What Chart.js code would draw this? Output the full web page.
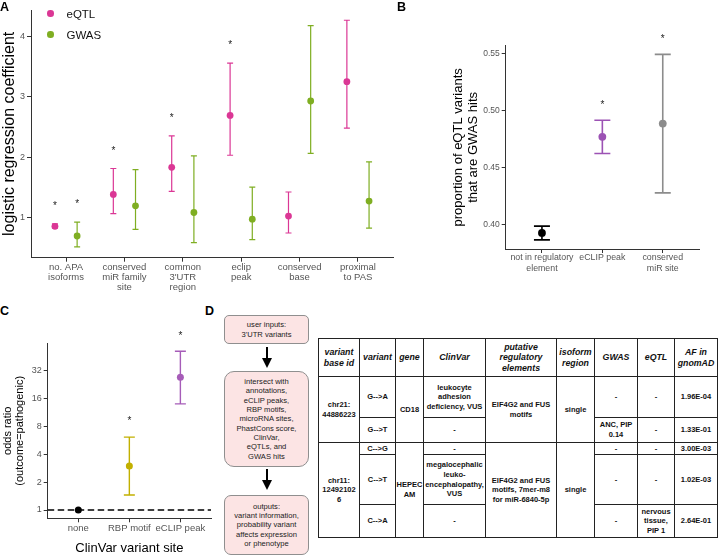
<!DOCTYPE html>
<html><head><meta charset="utf-8">
<script src="https://cdn.jsdelivr.net/npm/chart.js@4.4.0/dist/chart.umd.min.js"></script>
<style>
html,body{margin:0;padding:0;background:#fff;}
body{width:720px;height:560px;position:relative;overflow:hidden;font-family:'Liberation Sans',Arial,sans-serif;}
canvas{position:absolute;}
#cA{left:0;top:0;}
#cB{left:400px;top:0;}
#cC{left:0;top:320px;}
.lbl{position:absolute;font-weight:bold;font-size:12.5px;line-height:12px;color:#000;}
.legend{position:absolute;left:47px;top:3px;font-size:11.5px;color:#111;}
.legend div{height:21px;display:flex;align-items:center;}
.dot{width:6.5px;height:6.5px;border-radius:50%;display:inline-block;margin-right:13px;}
.box{position:absolute;left:224px;width:85px;background:#fce4e4;border:1px solid #8f8f8f;box-sizing:border-box;display:flex;align-items:center;justify-content:center;text-align:center;font-size:7.6px;line-height:9.3px;color:#222;}
.shaft{position:absolute;left:266px;width:2px;background:#000;}
.head{position:absolute;left:262px;width:0;height:0;border-left:5px solid transparent;border-right:5px solid transparent;border-top:10px solid #000;}
#tbl{position:absolute;left:318px;top:338px;border-collapse:collapse;table-layout:fixed;width:399px;font-family:'Liberation Sans',Arial,sans-serif;font-weight:bold;font-size:7.5px;line-height:9.6px;color:#111;}
#tbl td,#tbl th{border:0.8px solid #222;padding:0;text-align:center;vertical-align:middle;white-space:nowrap;overflow:hidden;}
#tbl th{font-style:italic;font-size:8.8px;line-height:10.5px;border-bottom:1.6px solid #222;}
</style>
</head><body>
<canvas id="cA" width="400" height="300"></canvas>
<canvas id="cB" width="320" height="300"></canvas>
<canvas id="cC" width="215" height="240"></canvas>

<div class="lbl" style="left:0;top:1px;">A</div>
<div class="lbl" style="left:397px;top:1px;">B</div>
<div class="lbl" style="left:0;top:305px;">C</div>
<div class="lbl" style="left:205px;top:305px;">D</div>

<div class="legend">
  <div><span class="dot" style="background:#DB3795"></span>eQTL</div>
  <div><span class="dot" style="background:#7FAE22"></span>GWAS</div>
</div>

<div class="box" style="top:315px;height:29px;border-radius:5px;">user inputs:<br>3'UTR variants</div>
<div class="shaft" style="top:347px;height:12px;"></div>
<div class="head" style="top:358px;"></div>
<div class="box" style="top:371px;height:96px;border-radius:10px;">intersect with<br>annotations,<br>eCLIP peaks,<br>RBP motifs,<br>microRNA sites,<br>PhastCons score,<br>ClinVar,<br>eQTLs, and<br>GWAS hits</div>
<div class="shaft" style="top:469px;height:12px;"></div>
<div class="head" style="top:480px;"></div>
<div class="box" style="top:495px;height:60px;border-radius:7px;">outputs:<br>variant information,<br>probability variant<br>affects expression<br>or phenotype</div>

<table id="tbl">
<colgroup><col style="width:41px"><col style="width:36px"><col style="width:28px"><col style="width:62px"><col style="width:71px"><col style="width:38px"><col style="width:43px"><col style="width:37px"><col style="width:43px"></colgroup>
<tr style="height:38px"><th>variant<br>base id</th><th>variant</th><th>gene</th><th>ClinVar</th><th>putative<br>regulatory<br>elements</th><th>isoform<br>region</th><th>GWAS</th><th>eQTL</th><th>AF in<br>gnomAD</th></tr>
<tr style="height:41px"><td rowspan="2">chr21:<br>44886223</td><td>G--&gt;A</td><td rowspan="2">CD18</td><td>leukocyte<br>adhesion<br>deficiency, VUS</td><td rowspan="2">EIF4G2 and FUS<br>motifs</td><td rowspan="2">single</td><td>-</td><td>-</td><td>1.96E-04</td></tr>
<tr style="height:25px"><td>G--&gt;T</td><td>-</td><td>ANC, PIP<br>0.14</td><td>-</td><td>1.33E-01</td></tr>
<tr style="height:12px"><td rowspan="3">chr11:<br>12492102<br>6</td><td>C--&gt;G</td><td rowspan="3">HEPEC<br>AM</td><td>-</td><td rowspan="3">EIF4G2 and FUS<br>motifs, 7mer-m8<br>for miR-6840-5p</td><td rowspan="3">single</td><td>-</td><td>-</td><td>3.00E-03</td></tr>
<tr style="height:50px"><td>C--&gt;T</td><td>megalocephalic<br>leuko-<br>encephalopathy,<br>VUS</td><td>-</td><td>-</td><td>1.02E-03</td></tr>
<tr style="height:33px"><td>C--&gt;A</td><td>-</td><td>-</td><td>nervous<br>tissue,<br>PIP 1</td><td>2.64E-01</td></tr>
</table>

<script>
// ---------- Panel A data ----------
const aCategories = [["no. APA","isoforms"],["conserved","miR family","site"],["common","3'UTR","region"],["eclip","peak"],["conserved","base"],["proximal","to PAS"]];
const aEqtlCoef = [0.85, 1.38, 1.83, 2.69, 1.02, 3.25];
const aEqtlLow  = [0.82, 1.06, 1.43, 2.03, 0.74, 2.48];
const aEqtlHigh = [0.89, 1.81, 2.35, 3.56, 1.42, 4.27];
const aEqtlSig  = [true, true, true, true, false, false];
const aGwasCoef = [0.69, 1.19, 1.08, 0.97, 2.93, 1.27];
const aGwasLow  = [0.51, 0.80, 0.58, 0.63, 2.06, 0.82];
const aGwasHigh = [0.92, 1.79, 2.02, 1.50, 4.18, 1.92];
const aGwasSig  = [true, false, false, false, false, false];
const aYTicks = [1, 2, 3, 4];

// ---------- Panel B data ----------
const bCategories = [["not in regulatory","element"],"eCLIP peak",["conserved","miR site"]];
const bProportion = [0.393, 0.477, 0.4886];
const bLow  = [0.387, 0.4624, 0.428];
const bHigh = [0.399, 0.4915, 0.549];
const bSig  = [false, true, true];
const bYTicks = [0.40, 0.45, 0.50, 0.55];

// ---------- Panel C data ----------
const cCategories = ["none","RBP motif","eCLIP peak"];
const cOddsRatio = [1, 2.97, 26.9];
const cLow  = [null, 1.45, 13.9];
const cHigh = [null, 6.09, 51.2];
const cSig  = [false, true, true];
const cYTicks = [1, 2, 4, 8, 16, 32];

const PINK = '#DB3795', GREEN = '#7FAE22';
const bColors = ['#000000', '#9C52B4', '#8C8C8C'];
const cColors = ['#000000', '#C2B000', '#A65CB8'];
const TICK = '#555555', AXIS = '#333333';

Chart.defaults.font.family = "'Liberation Sans', Arial, sans-serif";
Chart.defaults.color = TICK;

const errPlugin = {
  id: 'errbars',
  beforeDatasetsDraw(chart, args, opts) {
    const ctx = chart.ctx, x = chart.scales.x, y = chart.scales.y;
    if (opts.refValue != null) {
      const py = y.getPixelForValue(opts.refValue);
      ctx.save();
      ctx.strokeStyle = '#000'; ctx.lineWidth = 1.3; ctx.setLineDash([6.5, 3.5]);
      ctx.beginPath(); ctx.moveTo(chart.chartArea.left, py); ctx.lineTo(chart.chartArea.right, py); ctx.stroke();
      ctx.restore();
    }
    chart.data.datasets.forEach(ds => {
      if (!ds.low) return;
      ds.data.forEach((p, i) => {
        const lo = ds.low[i], hi = ds.high[i];
        if (lo == null || hi == null) return;
        const px = x.getPixelForValue(p.x), pl = y.getPixelForValue(lo), ph = y.getPixelForValue(hi);
        const c = ds.capHalf;
        ctx.save();
        ctx.strokeStyle = Array.isArray(ds.backgroundColor) ? ds.backgroundColor[i] : ds.backgroundColor;
        ctx.lineWidth = ds.errWidth;
        ctx.beginPath();
        ctx.moveTo(px, pl); ctx.lineTo(px, ph);
        ctx.moveTo(px - c, pl); ctx.lineTo(px + c, pl);
        ctx.moveTo(px - c, ph); ctx.lineTo(px + c, ph);
        ctx.stroke();
        ctx.restore();
      });
    });
  },
  afterDatasetsDraw(chart, args, opts) {
    const ctx = chart.ctx, x = chart.scales.x, y = chart.scales.y;
    chart.data.datasets.forEach(ds => {
      if (!ds.sig) return;
      ds.data.forEach((p, i) => {
        if (!ds.sig[i]) return;
        const v = opts.logStar ? ds.high[i] * opts.starOffset : ds.high[i] + opts.starOffset;
        const px = x.getPixelForValue(p.x), py = y.getPixelForValue(v);
        ctx.save();
        ctx.fillStyle = '#222'; ctx.font = "10px 'Liberation Sans', Arial, sans-serif";
        ctx.textAlign = 'center'; ctx.textBaseline = 'alphabetic';
        ctx.fillText('*', px, py + 5.8);
        ctx.restore();
      });
    });
  }
};

function axisCommon() {
  return {
    grid: { drawOnChartArea: false, tickLength: 4, tickColor: AXIS, tickWidth: 1 },
    border: { color: AXIS, width: 1 }
  };
}

// ---------- Panel A ----------
const dodge = 0.19;
new Chart(document.getElementById('cA'), {
  type: 'scatter',
  data: { datasets: [
    { label: 'eQTL', data: aEqtlCoef.map((v, i) => ({ x: i + 1 - dodge, y: v })), low: aEqtlLow, high: aEqtlHigh, sig: aEqtlSig,
      backgroundColor: PINK, borderColor: PINK, pointRadius: 3.4, pointBorderWidth: 0, capHalf: 3, errWidth: 1.2 },
    { label: 'GWAS', data: aGwasCoef.map((v, i) => ({ x: i + 1 + dodge, y: v })), low: aGwasLow, high: aGwasHigh, sig: aGwasSig,
      backgroundColor: GREEN, borderColor: GREEN, pointRadius: 3.4, pointBorderWidth: 0, capHalf: 3, errWidth: 1.2 }
  ]},
  options: {
    responsive: false, animation: false, devicePixelRatio: 1,
    layout: { padding: { top: 10, right: 7, left: 0, bottom: 0 } },
    plugins: { legend: { display: false }, tooltip: { enabled: false }, errbars: { starOffset: 0.34 } },
    scales: {
      x: Object.assign(axisCommon(), {
        type: 'linear', min: 0.4, max: 6.6,
        afterBuildTicks: s => { s.ticks = aCategories.map((_, i) => ({ value: i + 1 })); },
        afterFit: s => { s.height = 42.3; },
        ticks: { callback: v => aCategories[Math.round(v) - 1], font: { size: 9.5, lineHeight: 1.05 }, color: TICK, padding: 1, maxRotation: 0, autoSkip: false }
      }),
      y: Object.assign(axisCommon(), {
        min: 0.33, max: 4.44,
        afterBuildTicks: s => { s.ticks = aYTicks.map(v => ({ value: v })); },
        afterFit: s => { s.width = 31; },
        ticks: { font: { size: 9 }, color: TICK, padding: 2 },
        title: { display: true, text: 'logistic regression coefficient', font: { size: 16 }, color: '#000', padding: { top: 0, bottom: 0 } }
      })
    }
  },
  plugins: [errPlugin]
});

// ---------- Panel B ----------
new Chart(document.getElementById('cB'), {
  type: 'scatter',
  data: { datasets: [
    { label: 'proportion', data: bProportion.map((v, i) => ({ x: i + 1, y: v })), low: bLow, high: bHigh, sig: bSig,
      backgroundColor: bColors, borderColor: bColors, pointRadius: 3.9, pointBorderWidth: 0, capHalf: 8, errWidth: 1.6 }
  ]},
  options: {
    responsive: false, animation: false, devicePixelRatio: 1,
    layout: { padding: { top: 45.7, right: 21, left: 0, bottom: 0 } },
    plugins: { legend: { display: false }, tooltip: { enabled: false }, errbars: { starOffset: 0.016 } },
    scales: {
      x: Object.assign(axisCommon(), {
        type: 'linear', min: 0.4, max: 3.6,
        afterBuildTicks: s => { s.ticks = bCategories.map((_, i) => ({ value: i + 1 })); },
        afterFit: s => { s.height = 51; },
        ticks: { callback: v => bCategories[Math.round(v) - 1], font: { size: 8.8, lineHeight: 1.15 }, color: TICK, padding: 0, maxRotation: 0, autoSkip: false }
      }),
      y: Object.assign(axisCommon(), {
        min: 0.379, max: 0.5566,
        afterBuildTicks: s => { s.ticks = bYTicks.map(v => ({ value: v })); },
        afterFit: s => { s.width = 105.7; },
        ticks: { callback: v => v.toFixed(2), font: { size: 8.5 }, color: TICK, padding: 2 },
        title: { display: true, text: ['proportion of eQTL variants', 'that are GWAS hits'], font: { size: 13, lineHeight: 1.154 }, color: '#000', padding: { top: 50.5, bottom: 0 } }
      })
    }
  },
  plugins: [errPlugin]
});

// ---------- Panel C ----------
new Chart(document.getElementById('cC'), {
  type: 'scatter',
  data: { datasets: [
    { label: 'odds', data: cOddsRatio.map((v, i) => ({ x: i + 1, y: v })), low: cLow, high: cHigh, sig: cSig,
      backgroundColor: cColors, borderColor: cColors, pointRadius: 3.5, pointBorderWidth: 0, capHalf: 5.5, errWidth: 1.4 }
  ]},
  options: {
    responsive: false, animation: false, devicePixelRatio: 1,
    layout: { padding: { top: 23.3, right: 4, left: 0, bottom: 0 } },
    plugins: { legend: { display: false }, tooltip: { enabled: false }, errbars: { starOffset: 1.58, logStar: true, refValue: 1 } },
    scales: {
      x: Object.assign(axisCommon(), {
        type: 'linear', min: 0.4, max: 3.6,
        afterBuildTicks: s => { s.ticks = cCategories.map((_, i) => ({ value: i + 1 })); },
        afterFit: s => { s.height = 41.7; },
        ticks: { callback: v => cCategories[Math.round(v) - 1], font: { size: 9.5 }, color: TICK, padding: 0, maxRotation: 0, autoSkip: false },
        title: { display: true, text: 'ClinVar variant site', font: { size: 13 }, color: '#000', padding: { top: 0, bottom: 4.2 } }
      }),
      y: Object.assign(axisCommon(), {
        type: 'logarithmic', min: 0.814, max: 62.4,
        afterBuildTicks: s => { s.ticks = cYTicks.map(v => ({ value: v })); },
        afterFit: s => { s.width = 47.7; },
        ticks: { callback: v => String(v), font: { size: 9 }, color: TICK, padding: 2 },
        title: { display: true, text: ['odds ratio', '(outcome=pathogenic)'], font: { size: 11, lineHeight: 1.1 }, color: '#000', padding: { top: 2, bottom: 0 } }
      })
    }
  },
  plugins: [errPlugin]
});
</script>
</body></html>
